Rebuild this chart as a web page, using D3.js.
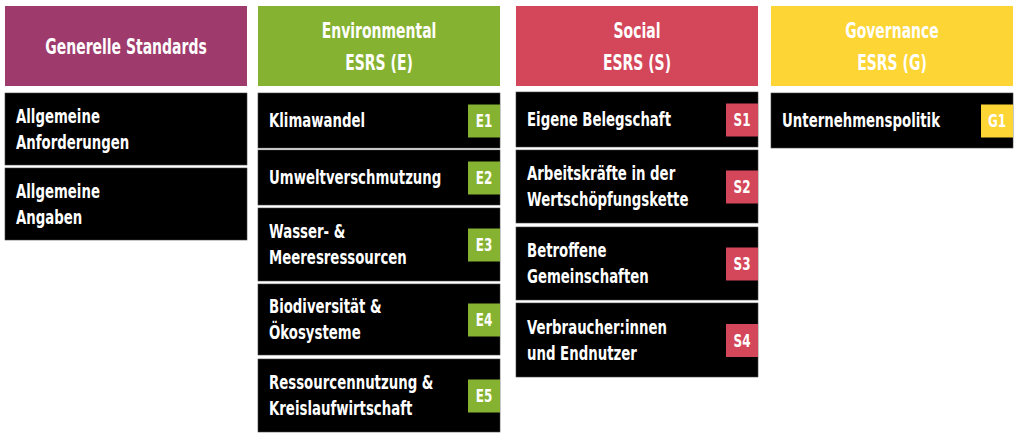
<!DOCTYPE html>
<html><head><meta charset="utf-8">
<script src="https://cdn.jsdelivr.net/npm/d3@7"></script>
<style>body{margin:0;background:#fff}svg{display:block}text{font-stretch:condensed}</style>
</head><body>
<script>
const columns = ["Generelle Standards","Environmental|ESRS (E)","Social|ESRS (S)","Governance|ESRS (G)"];
const colors = ["#9e3a6c","#86b232","#d4475a","#fdd535"];
const items = [
 [["Allgemeine|Anforderungen",""],["Allgemeine|Angaben",""]],
 [["Klimawandel","E1"],["Umweltverschmutzung","E2"],["Wasser- &|Meeresressourcen","E3"],["Biodiversität &|Ökosysteme","E4"],["Ressourcennutzung &|Kreislaufwirtschaft","E5"]],
 [["Eigene Belegschaft","S1"],["Arbeitskräfte in der|Wertschöpfungskette","S2"],["Betroffene|Gemeinschaften","S3"],["Verbraucher:innen|und Endnutzer","S4"]],
 [["Unternehmenspolitik","G1"]]
];
const colX = [5,258,516,771], colW = 242;
const boxes = [
 [[93,165],[168,240]],
 [[93,148],[150,205],[208,281],[284,355],[359,432]],
 [[92,147],[150,223],[227,300],[303,377]],
 [[93,148]]
];
const font = "'DejaVu Sans Condensed','DejaVu Sans',sans-serif";
const sx = 0.74;
const svg = d3.select("body").append("svg").attr("width",1024).attr("height",447);
function label(g, x, y, lines, size, lh, anchor){
  const gg = g.append("g").attr("transform",`translate(${x},0) scale(${sx},1)`);
  const t = gg.append("text").attr("text-anchor",anchor).attr("fill","#fff")
    .attr("font-family",font).attr("font-weight","bold").attr("font-size",size);
  lines.forEach((l,k)=>t.append("tspan").attr("x",0).attr("y",y+k*lh).text(l));
}
columns.forEach((c,i)=>{
  const g = svg.append("g").attr("transform",`translate(${colX[i]},0)`);
  g.append("rect").attr("y",6).attr("width",colW).attr("height",80).attr("fill",colors[i]);
  const lines = c.split("|");
  label(g, colW/2, 46 + 8 - (lines.length-1)*16, lines, 21, 32, "middle");
  items[i].forEach((it,j)=>{
    const [y1,y2] = boxes[i][j];
    g.append("rect").attr("y",y1).attr("width",colW).attr("height",y2-y1).attr("fill","#000").attr("stroke","#444").attr("stroke-width",0.6);
    const ls = it[0].split("|"), cy=(y1+y2)/2;
    label(g, 11, cy+7-(ls.length-1)*13, ls, 20, 26, "start");
    if(it[1]){
      g.append("rect").attr("x",colW-32).attr("y",cy-16).attr("width",32).attr("height",33).attr("fill",colors[i]);
      label(g, colW-16, cy+7, [it[1]], 18, 0, "middle");
    }
  });
});
</script>
</body></html>
